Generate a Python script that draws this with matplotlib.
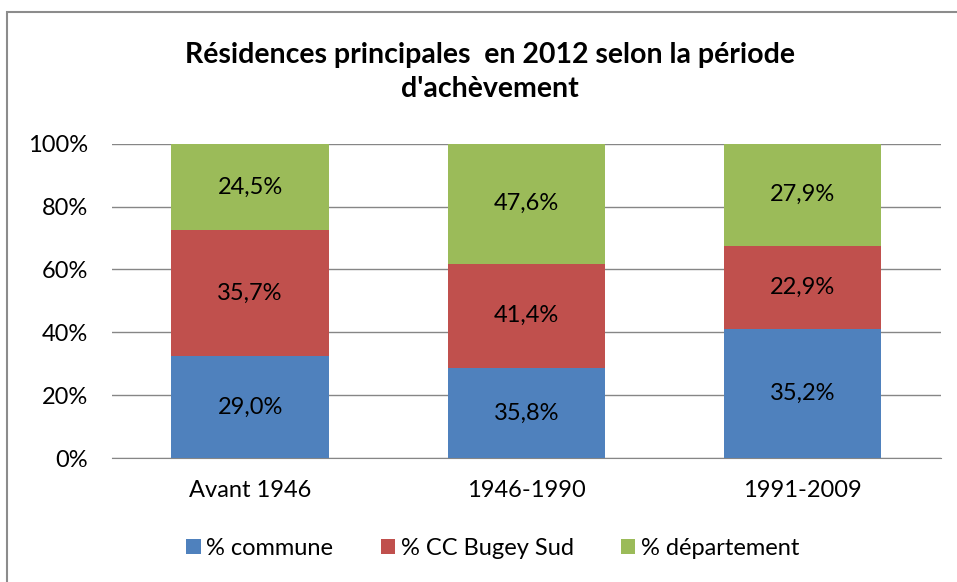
import matplotlib.pyplot as plt
import matplotlib.patches as patches
import numpy as np

plt.rcParams['font.family'] = ['Lato', 'DejaVu Sans']

periods = ['Avant 1946', '1946-1990', '1991-2009']
series = ['% commune', '% CC Bugey Sud', '% département']
commune = [29.0, 35.8, 35.2]
cc_bugey = [35.7, 41.4, 22.9]
departement = [24.5, 47.6, 27.9]
colors = ['#4F81BD', '#C0504D', '#9BBB59']

values = np.array([commune, cc_bugey, departement])
shares = values / values.sum(axis=0) * 100

fig = plt.figure(figsize=(9.57, 5.82), dpi=100)
ax = fig.add_axes([0.117, 0.213, 0.866, 0.540])

# outer frame like the spreadsheet chart area
frame = patches.Rectangle((0.007, -0.1), 1.2, 1.079, transform=fig.transFigure,
                          fill=False, edgecolor='#8c8c8c', linewidth=1.5)
fig.patches.append(frame)

fs = 17

x = np.arange(len(periods))
bottom = np.zeros(len(periods))
for i in range(len(series)):
    bars = ax.bar(x, shares[i], 0.57, bottom=bottom, color=colors[i],
                  label=series[i], zorder=3)
    for j, b in enumerate(bars):
        ax.text(b.get_x() + b.get_width() / 2, bottom[j] + shares[i][j] / 2,
                ('%.1f%%' % values[i][j]).replace('.', ','),
                ha='center', va='center', fontsize=fs, color='black', zorder=4)
    bottom += shares[i]

ax.set_xlim(-0.5, 2.5)
ax.set_ylim(0, 100)
ax.set_yticks(np.arange(0, 101, 20))
ax.set_yticklabels(['%d%%' % v for v in range(0, 101, 20)], fontsize=fs)
ax.set_xticks(x)
ax.set_xticklabels(periods, fontsize=fs)
ax.tick_params(axis='y', length=0, pad=17)
ax.tick_params(axis='x', length=0, pad=16)
ax.yaxis.grid(True, color='#868686', linewidth=1, zorder=0)
for s in ['top', 'right', 'left']:
    ax.spines[s].set_visible(False)
ax.spines['bottom'].set_color('#868686')

fig.text(0.512, 0.876, "Résidences principales  en 2012 selon la période\nd'achèvement",
         ha='center', va='center', fontsize=20.5, fontweight='bold', linespacing=1.35)

fig.legend(loc='center', bbox_to_anchor=(0.515, 0.058), ncol=3, frameon=False,
           fontsize=fs, handlelength=0.6, handleheight=0.6, handletextpad=0.25,
           columnspacing=2.0)

plt.savefig('out.png', dpi=100)
